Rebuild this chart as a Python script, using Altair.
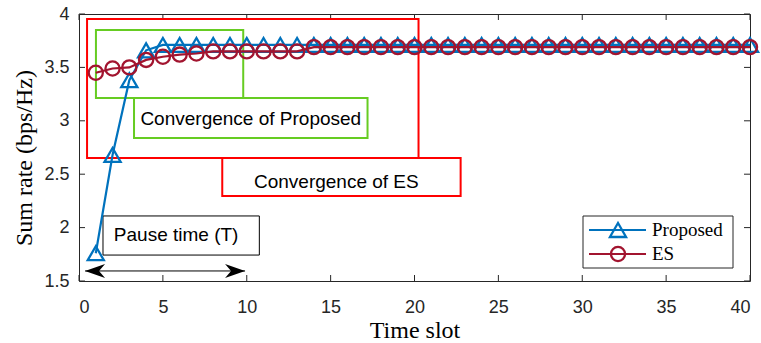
import altair as alt
import pandas as pd

# Sum rate per time slot for the two schemes
time_slot = list(range(1, 41))
proposed_rate = [1.76, 2.68, 3.38, 3.66, 3.71, 3.71, 3.71, 3.71, 3.71, 3.71,
                 3.71, 3.71, 3.71, 3.71, 3.71, 3.71, 3.71, 3.71, 3.71, 3.71,
                 3.71, 3.71, 3.71, 3.71, 3.71, 3.71, 3.71, 3.71, 3.71, 3.71,
                 3.71, 3.71, 3.71, 3.71, 3.71, 3.71, 3.71, 3.71, 3.71, 3.71]
es_rate = [3.45, 3.49, 3.50, 3.57, 3.60, 3.62, 3.63, 3.65, 3.65, 3.65,
           3.65, 3.65, 3.65, 3.69, 3.69, 3.69, 3.69, 3.69, 3.69, 3.69,
           3.69, 3.69, 3.69, 3.69, 3.69, 3.69, 3.69, 3.69, 3.69, 3.69,
           3.69, 3.69, 3.69, 3.69, 3.69, 3.69, 3.69, 3.69, 3.69, 3.69]
series_names = ["Proposed", "ES"]

x_tick_values = [0, 5, 10, 15, 20, 25, 30, 35, 40]
y_tick_values = [1.5, 2, 2.5, 3, 3.5, 4]

# Annotation boxes (data units)
box_x0 = [0.48, 8.54, 1.01, 3.28, 1.43]
box_x1 = [20.24, 22.75, 9.79, 17.20, 10.75]
box_y0 = [2.652, 2.296, 3.213, 2.839, 1.743]
box_y1 = [3.953, 2.652, 3.850, 3.213, 2.109]
box_kind = ["es", "es", "proposed", "proposed", "pause"]

# Annotation texts (data units)
label_text = ["Convergence of Proposed", "Convergence of ES", "Pause time (T)"]
label_x = [10.24, 15.34, 5.79]
label_y = [3.017, 2.427, 1.935]

# Double arrow marking the pause time
arrow_x = [0.36, 9.9]
arrow_y = 1.594

W, H = 671, 267
BLUE = "#0072BD"
RED = "#A2142F"
AXIS_GRAY = "#262626"
SANS = "Liberation Sans"
SERIF = "Liberation Serif"

xs = alt.Scale(domain=[0, 40], nice=False, zero=False)
ys = alt.Scale(domain=[1.5, 4], nice=False, zero=False)

df_prop = pd.DataFrame({"t": time_slot, "rate": proposed_rate, "series": series_names[0]})
df_es = pd.DataFrame({"t": time_slot, "rate": es_rate, "series": series_names[1]})
df_box = pd.DataFrame({"x0": box_x0, "x1": box_x1, "y0": box_y0, "y1": box_y1, "kind": box_kind})
df_lab = pd.DataFrame({"text": label_text, "x": label_x, "y": label_y})
df_xt = pd.DataFrame({"v": x_tick_values})
df_yt = pd.DataFrame({"v": y_tick_values})
df_arrow = pd.DataFrame({"x0": [arrow_x[0]], "x1": [arrow_x[1]], "y": [arrow_y]})

# one shared axis definition per channel, used by every layer
x_axis = alt.Axis(values=x_tick_values, ticks=False, domain=False, grid=False,
                  labelFont=SANS, labelFontSize=18, labelColor=AXIS_GRAY, labelPadding=17,
                  title="Time slot", titleFont=SERIF, titleFontSize=24,
                  titleFontWeight="normal", titleColor="#000000", titleY=37)
y_axis = alt.Axis(values=y_tick_values, ticks=False, domain=False, grid=False, format="~g",
                  labelFont=SANS, labelFontSize=18, labelColor=AXIS_GRAY, labelPadding=10,
                  title="Sum rate (bps/Hz)", titleFont=SERIF, titleFontSize=24,
                  titleFontWeight="normal", titleColor="#000000", titlePadding=7,
                  titleY=H / 2 + 10)


def X(field):
    return alt.X(field, scale=xs, axis=x_axis)


def Y(field):
    return alt.Y(field, scale=ys, axis=y_axis)


# inward tick marks on all four sides
tick_bottom = alt.Chart(df_xt).mark_rule(color=AXIS_GRAY, strokeWidth=1).encode(
    x=X("v:Q"), y=alt.value(H), y2=alt.value(H - 6))
tick_top = alt.Chart(df_xt).mark_rule(color=AXIS_GRAY, strokeWidth=1).encode(
    x=X("v:Q"), y=alt.value(0), y2=alt.value(6))
tick_left = alt.Chart(df_yt).mark_rule(color=AXIS_GRAY, strokeWidth=1).encode(
    y=Y("v:Q"), x=alt.value(0), x2=alt.value(6))
tick_right = alt.Chart(df_yt).mark_rule(color=AXIS_GRAY, strokeWidth=1).encode(
    y=Y("v:Q"), x=alt.value(W), x2=alt.value(W - 6))


def boxes(kind, color, width):
    return alt.Chart(df_box).transform_filter(alt.datum.kind == kind).mark_rect(
        fillOpacity=0, stroke=color, strokeWidth=width).encode(
        x=X("x0:Q"), x2="x1:Q", y=Y("y0:Q"), y2="y1:Q")


box_es = boxes("es", "#FF0000", 2)
box_prop = boxes("proposed", "#66CC22", 2)
box_pause = boxes("pause", "#000000", 1)

labels = alt.Chart(df_lab).mark_text(font=SANS, fontSize=19, color="#000000",
                                     align="center", baseline="middle").encode(
    x=X("x:Q"), y=Y("y:Q"), text="text:N")

arrow_line = alt.Chart(df_arrow).mark_rule(color="#000000", strokeWidth=1).encode(
    x=X("x0:Q"), x2="x1:Q", y=Y("y:Q"))
head_right = alt.Chart(df_arrow).mark_point(
    shape="M0,0L-2,-0.7L-1.4,0L-2,0.7Z", filled=True, color="#000000", opacity=1, size=400).encode(
    x=X("x1:Q"), y=Y("y:Q"))
head_left = alt.Chart(df_arrow).mark_point(
    shape="M0,0L2,-0.7L1.4,0L2,0.7Z", filled=True, color="#000000", opacity=1, size=400).encode(
    x=X("x0:Q"), y=Y("y:Q"))


def series(df, color, shape, size):
    base = alt.Chart(df).encode(x=X("t:Q"), y=Y("rate:Q"))
    line = base.mark_line(color=color, strokeWidth=2.2, clip=False)
    pts = base.mark_point(shape=shape, size=size, filled=False, color=color,
                          strokeWidth=2.3, opacity=1, clip=False)
    return line + pts


TRI_SIZE, CIRC_SIZE = 260, 200
prop_layer = series(df_prop, BLUE, "triangle-up", TRI_SIZE)
es_layer = series(df_es, RED, "circle", CIRC_SIZE)

# hand-built legend box in the lower right corner
LX0, LX1, LY0, LY1 = 504, 654, 202, 254
legend_box = alt.Chart(pd.DataFrame({"k": [0]})).mark_rect(
    fill="#ffffff", stroke=AXIS_GRAY, strokeWidth=1).encode(
    x=alt.value(LX0), x2=alt.value(LX1), y=alt.value(LY0), y2=alt.value(LY1))


def legend_entry(name, color, shape, size, ypos):
    d = pd.DataFrame({"name": [name]})
    ln = alt.Chart(d).mark_rule(color=color, strokeWidth=2.2).encode(
        x=alt.value(510), x2=alt.value(567), y=alt.value(ypos))
    pt = alt.Chart(d).mark_point(shape=shape, size=size, filled=False, color=color,
                                 strokeWidth=2.3, opacity=1).encode(
        x=alt.value(539), y=alt.value(ypos))
    tx = alt.Chart(d).mark_text(font=SERIF, fontSize=19, color="#000000",
                                align="left", baseline="middle").encode(
        x=alt.value(573), y=alt.value(ypos), text="name:N")
    return ln + pt + tx


leg_prop = legend_entry(series_names[0], BLUE, "triangle-up", TRI_SIZE, 216)
leg_es = legend_entry(series_names[1], RED, "circle", CIRC_SIZE, 240)

chart = alt.layer(
    tick_bottom, tick_top, tick_left, tick_right,
    box_es, box_prop, box_pause, labels,
    arrow_line, head_right, head_left,
    prop_layer, es_layer,
    legend_box, leg_prop, leg_es,
).properties(
    width=W, height=H,
    autosize=alt.AutoSizeParams(type="none"),
    padding={"left": 79, "top": 14, "right": 11, "bottom": 62},
    background="#ffffff",
).configure_view(stroke=AXIS_GRAY, strokeWidth=1)

chart.save("out.html", embed_options={"renderer": "svg", "actions": False})
